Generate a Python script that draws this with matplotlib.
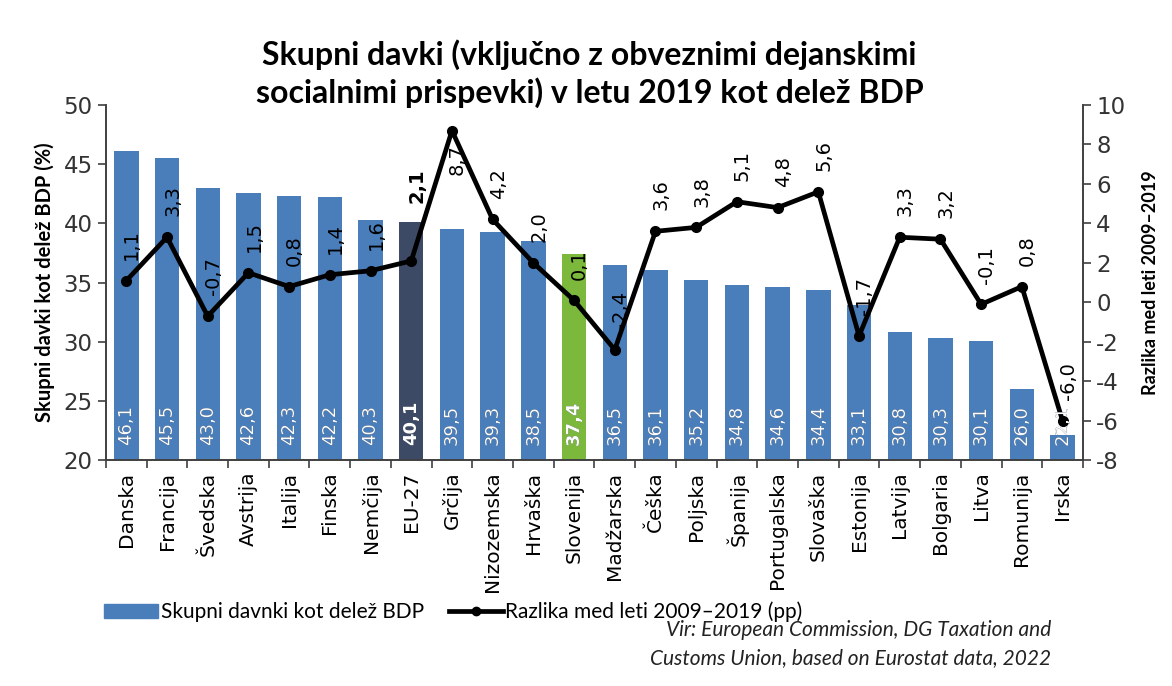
import matplotlib
matplotlib.use("Agg")
import matplotlib.pyplot as plt
from matplotlib.lines import Line2D
from matplotlib.patches import Patch
import numpy as np

# Podatki
drzave = ["Danska", "Francija", "Švedska", "Avstrija", "Italija", "Finska",
          "Nemčija", "EU-27", "Grčija", "Nizozemska", "Hrvaška", "Slovenija",
          "Madžarska", "Češka", "Poljska", "Španija", "Portugalska", "Slovaška",
          "Estonija", "Latvija", "Bolgaria", "Litva", "Romunija", "Irska"]
davki = [46.1, 45.5, 43.0, 42.6, 42.3, 42.2, 40.3, 40.1, 39.5, 39.3, 38.5, 37.4,
         36.5, 36.1, 35.2, 34.8, 34.6, 34.4, 33.1, 30.8, 30.3, 30.1, 26.0, 22.1]
razlika = [1.1, 3.3, -0.7, 1.5, 0.8, 1.4, 1.6, 2.1, 8.7, 4.2, 2.0, 0.1,
           -2.4, 3.6, 3.8, 5.1, 4.8, 5.6, -1.7, 3.3, 3.2, -0.1, 0.8, -6.0]

MODRA = "#4a7ebb"
EU_BARVA = "#3c4a66"
SLO_BARVA = "#7bb83c"
OS = "#404040"

TITLE_FONT = ["Lato", "DejaVu Sans"]
NARROW_FONT = ["Liberation Sans Narrow", "Lato", "DejaVu Sans"]

plt.rcParams["axes.unicode_minus"] = False


def fmt(v):
    return f"{v:.1f}".replace(".", ",")


fig = plt.figure(figsize=(11.72, 6.86), dpi=100)
fig.patch.set_facecolor("white")
ax = fig.add_axes([0.0904, 0.329, 0.8336, 0.518])
ax2 = ax.twinx()

x = np.arange(len(drzave))
barve = [EU_BARVA if d == "EU-27" else SLO_BARVA if d == "Slovenija" else MODRA
         for d in drzave]
stolpci = ax.bar(x, np.array(davki) - 20, bottom=20, width=0.6, color=barve, zorder=2)
ax.set_ylim(20, 50)
ax.set_xlim(-0.5, len(drzave) - 0.5)
ax.set_yticks(range(20, 51, 5))

# Črta razlike
ax2.plot(x, razlika, color="black", lw=3.4, marker="o", ms=7, zorder=4)
ax2.set_ylim(-8, 10)
ax2.set_yticks(range(-8, 11, 2))
for i, (d, v) in enumerate(zip(drzave, razlika)):
    if d == "Grčija":
        ax2.annotate(fmt(v), (i, v), xytext=(4, -10), textcoords="offset points",
                     rotation=90, ha="center", va="top", fontsize=14)
    elif d == "EU-27":
        ax2.annotate(fmt(v), (i, v), xytext=(4, 42), textcoords="offset points",
                     rotation=90, ha="center", va="bottom", fontsize=14,
                     fontweight="bold")
    else:
        ax2.annotate(fmt(v), (i, v), xytext=(4, 15), textcoords="offset points",
                     rotation=90, ha="center", va="bottom", fontsize=14)

# Vrednosti v stolpcih (bele; kar sega čez stolpec, je temno) - nad črto
for i, (d, v) in enumerate(zip(drzave, davki)):
    bold = d in ("EU-27", "Slovenija")
    kw = dict(rotation=90, ha="center", va="bottom", fontsize=13,
              fontweight="bold" if bold else "normal", zorder=6,
              transform=ax.transData)
    ax2.text(i, 21.3, fmt(v), color="#1f2a3a", **kw)
    t = ax2.text(i, 21.3, fmt(v), color="white", **kw)
    t.set_clip_path(stolpci[i])

# Osi
ax.set_xticks(x)
ax.set_xticklabels(drzave, rotation=90, fontsize=14.5)
ax.set_xticks(np.arange(-0.5, len(drzave), 1), minor=True)
ax.tick_params(axis="x", which="major", length=0, pad=8)
ax.tick_params(axis="x", which="minor", length=6, color=OS, width=1.2)
ax.tick_params(axis="y", labelsize=16.5, length=6, color=OS, width=1.2, labelcolor="#333333")
ax2.tick_params(axis="y", labelsize=16.5, length=6, color=OS, width=1.2, labelcolor="#333333")
for a in (ax, ax2):
    a.spines["top"].set_visible(False)
    for s in ("left", "right", "bottom"):
        a.spines[s].set_color(OS)
        a.spines[s].set_linewidth(1.2)

ax.set_ylabel("Skupni davki kot delež BDP (%)", fontsize=14.5, fontweight="bold",
              family=TITLE_FONT, labelpad=6)
ax2.set_ylabel("Razlika med leti 2009–2019", fontsize=13, fontweight="bold",
               family=NARROW_FONT, labelpad=12)

fig.text(0.503, 0.893,
         "Skupni davki (vključno z obveznimi dejanskimi\nsocialnimi prispevki) v letu 2019 kot delež BDP",
         ha="center", va="center", fontsize=23, fontweight="bold",
         family=TITLE_FONT, linespacing=1.3)

# Legenda
handles = [Patch(color=MODRA),
           Line2D([0], [0], color="black", lw=3.4, marker="o", ms=6)]
fig.legend(handles, ["Skupni davnki kot delež BDP", "Razlika med leti 2009–2019 (pp)"],
           loc="center left", bbox_to_anchor=(0.073, 0.108), ncol=2, frameon=False,
           prop={"family": NARROW_FONT, "size": 15}, handlelength=2.6,
           handletextpad=0.1, columnspacing=1.2)

fig.text(0.897, 0.061,
         "Vir: European Commission, DG Taxation and\nCustoms Union, based on Eurostat data, 2022",
         ha="right", va="center", fontsize=15, style="italic",
         family=NARROW_FONT, linespacing=1.5, color="#222222")

fig.savefig("out.png", dpi=100, facecolor="white")
